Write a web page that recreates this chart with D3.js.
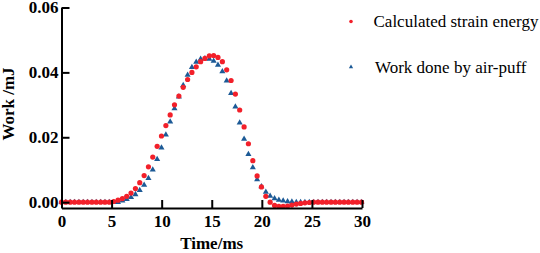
<!DOCTYPE html>
<html>
<head>
<meta charset="utf-8">
<script src="https://cdn.jsdelivr.net/npm/d3@7/dist/d3.min.js"></script>
<style>
  html, body { margin: 0; padding: 0; background: #fff; }
  #chart { width: 540px; height: 253px; }
  text { font-family: "Liberation Serif", "Times New Roman", serif; }
</style>
</head>
<body>
<div id="chart"></div>
<script>
// sample times (ms)
const times = [
  0, 0.43, 0.87, 1.30, 1.74, 2.17, 2.60, 3.04, 3.47, 3.91,
  4.34, 4.77, 5.21, 5.64, 6.08, 6.51, 6.94, 7.38, 7.81, 8.25,
  8.68, 9.11, 9.55, 9.98, 10.42, 10.85, 11.28, 11.72, 12.15, 12.59,
  13.02, 13.45, 13.89, 14.32, 14.76, 15.19, 15.62, 16.06, 16.49, 16.93,
  17.36, 17.79, 18.23, 18.66, 19.10, 19.53, 19.96, 20.40, 20.83, 21.27,
  21.70, 22.13, 22.57, 23.00, 23.44, 23.87, 24.30, 24.74, 25.17, 25.61,
  26.04, 26.47, 26.91, 27.34, 27.78, 28.21, 28.64, 29.08, 29.51, 29.95
];

// Calculated strain energy (mJ)
const strainEnergy = [
  0, 0, 0, 0, 0, 0, 0, 0, 0, 0,
  0, 0, 0.0002, 0.0006, 0.0011, 0.0018, 0.0028, 0.0042, 0.0060, 0.0082,
  0.0109, 0.0139, 0.0172, 0.0204, 0.0236, 0.0269, 0.0300, 0.0327, 0.0354, 0.0378,
  0.0400, 0.0417, 0.0433, 0.0443, 0.0451, 0.0452, 0.0446, 0.0433, 0.0408, 0.0375,
  0.0333, 0.0284, 0.0232, 0.0180, 0.0128, 0.0081, 0.0047, 0.0018, 0.0000, -0.0010,
  -0.0013, -0.0013, -0.0012, -0.0009, -0.0006, -0.0004, -0.0002, -0.0001, 0, 0,
  0, 0, 0, 0, 0, 0, 0, 0, 0, 0
];

// Work done by air-puff (mJ)
const airPuffWork = [
  0, 0, 0, 0, 0, 0, 0, 0, 0, 0,
  0, 0, 0, 0, 0.0004, 0.0009, 0.0015, 0.0024, 0.0037, 0.0053,
  0.0074, 0.0100, 0.0132, 0.0168, 0.0208, 0.0248, 0.0289, 0.0325, 0.0360, 0.0392,
  0.0416, 0.0432, 0.0441, 0.0443, 0.0441, 0.0435, 0.0423, 0.0403, 0.0374, 0.0336,
  0.0294, 0.0245, 0.0195, 0.0148, 0.0107, 0.0070, 0.0048, 0.0031, 0.0019, 0.0011,
  0.0007, 0.0004, 0.0002, 0.0001, 0, 0, 0, 0, 0, 0,
  0, 0, 0, 0, 0, 0, 0, 0, 0, 0
];

const xTicks = [0, 5, 10, 15, 20, 25, 30];
const yTicks = [0, 0.02, 0.04, 0.06];
const seriesNames = ["Calculated strain energy", "Work done by air-puff"];

const width = 540, height = 253;
const red = "#f2202a";
const blue = "#1c5a96";

const svg = d3.select("#chart")
  .append("svg")
  .attr("width", width)
  .attr("height", height);

const x = d3.scaleLinear().domain([0, 30]).range([61.5, 362]);
const y = d3.scaleLinear().domain([-0.0018, 0.06]).range([208, 7.5]);

const pts = (vals) => times.map((t, i) => ({ t, v: vals[i] }));

// blue triangles first, red dots over them
const tri = d3.symbol().type(d3.symbolTriangle).size(16);

svg.append("g")
  .selectAll("path")
  .data(pts(airPuffWork))
  .enter()
  .append("path")
  .attr("d", tri)
  .attr("transform", d => `translate(${x(d.t)},${y(d.v)})`)
  .attr("fill", blue);

svg.append("g")
  .selectAll("circle")
  .data(pts(strainEnergy))
  .enter()
  .append("circle")
  .attr("cx", d => x(d.t))
  .attr("cy", d => y(d.v))
  .attr("r", 2.6)
  .attr("fill", red);

// axes, ticks pointing inward
const xAxis = svg.append("g")
  .attr("transform", `translate(0,${y.range()[0]})`)
  .call(d3.axisBottom(x)
    .tickValues(xTicks)
    .tickSizeInner(-8)
    .tickSizeOuter(0)
    .tickPadding(7)
    .tickFormat(d3.format("d")));

const yAxis = svg.append("g")
  .attr("transform", `translate(${x.range()[0]},0)`)
  .call(d3.axisLeft(y)
    .tickValues(yTicks)
    .tickSizeInner(-8)
    .tickSizeOuter(0)
    .tickPadding(3)
    .tickFormat(d3.format(".2f")));

[xAxis, yAxis].forEach(g => {
  g.select(".domain").attr("stroke", "#000").attr("stroke-width", 2);
  g.selectAll(".tick line").attr("stroke", "#000").attr("stroke-width", 2);
  g.selectAll(".tick text")
    .attr("fill", "#000")
    .style("font-family", "'Liberation Serif', 'Times New Roman', serif")
    .style("font-weight", "bold")
    .style("font-size", "17px");
});

// axis titles
svg.append("text")
  .attr("x", 211.7)
  .attr("y", 249)
  .attr("text-anchor", "middle")
  .style("font-weight", "bold")
  .style("font-size", "17px")
  .text("Time/ms");

svg.append("text")
  .attr("transform", "translate(13.5,104) rotate(-90)")
  .attr("text-anchor", "middle")
  .style("font-weight", "bold")
  .style("font-size", "17px")
  .text("Work /mJ");

// legend
const legend = svg.append("g");
legend.append("circle")
  .attr("cx", 351).attr("cy", 21.5).attr("r", 1.8).attr("fill", red);
legend.append("path")
  .attr("d", d3.symbol().type(d3.symbolTriangle).size(8))
  .attr("transform", "translate(351,67)")
  .attr("fill", blue);

legend.append("text")
  .attr("x", 373.5).attr("y", 27)
  .style("font-size", "17px")
  .text(seriesNames[0]);
legend.append("text")
  .attr("x", 375).attr("y", 72.5)
  .style("font-size", "17px")
  .text(seriesNames[1]);
</script>
</body>
</html>
